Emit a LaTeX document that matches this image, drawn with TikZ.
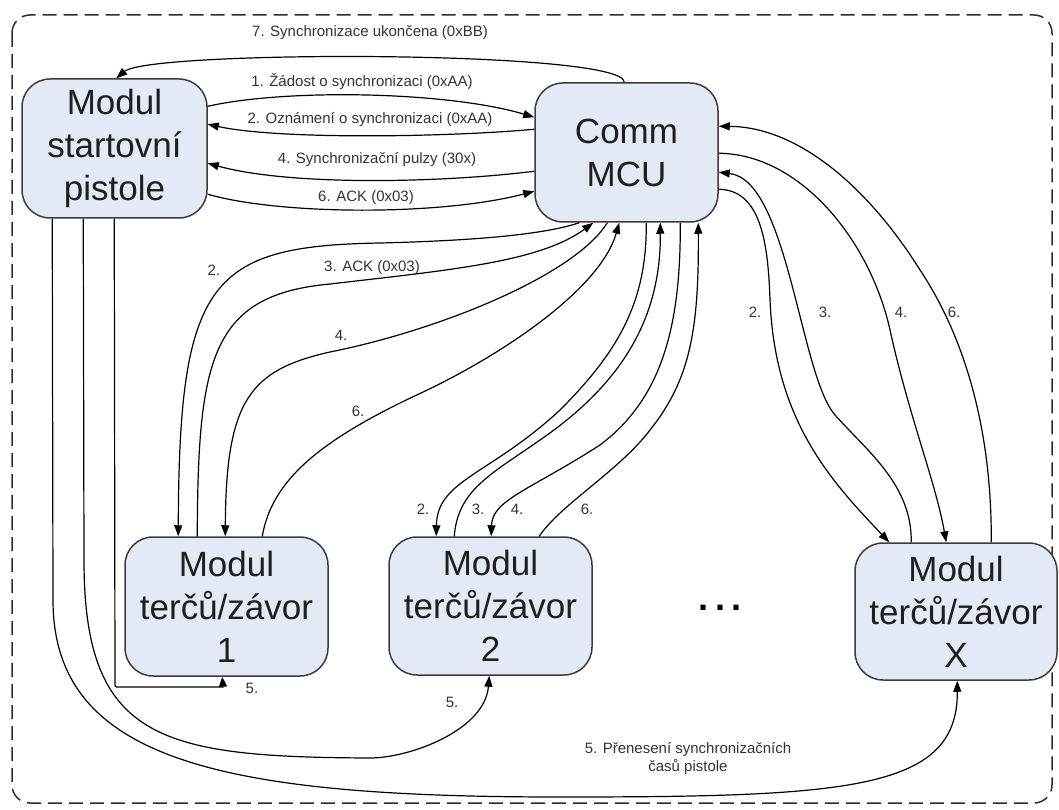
\documentclass[tikz,border=0pt]{standalone}
\usepackage{fontspec}
\setmainfont{Liberation Sans}
\usetikzlibrary{arrows.meta}
\definecolor{boxfill}{HTML}{E3EAF6}
\definecolor{boxline}{HTML}{3C3C3C}
\definecolor{labelgray}{HTML}{333333}
\definecolor{frameline}{HTML}{2E2E2E}
\begin{document}
\begin{tikzpicture}[x=1pt,y=-1pt,
  module/.style={draw=boxline, line width=1.5pt, fill=boxfill, rounded corners=28pt,
    align=center, inner sep=0pt, font=\fontsize{35}{43}\selectfont, text=black!88},
  link/.style={draw=black, line width=1.2pt},
  arr/.style={link, -{Triangle[length=11pt,width=8pt]}},
  tag/.style={font=\fontsize{15}{18}\selectfont, text=labelgray, inner sep=0pt, align=center},
]
\useasboundingbox (0,0) rectangle (1059,810);

% dashed frame around the whole system
\draw[frameline, line width=1.5pt, dash pattern=on 14pt off 7pt, rounded corners=18pt]
  (12,15) rectangle (1052,803);

% modules
\node[module, minimum width=185pt, minimum height=139pt] (pist) at (114.5,148.5) {Modul\\startovní\\pistole};
\node[module, minimum width=183pt, minimum height=139pt] (mcu) at (626.5,152.5) {Comm\\MCU};
\node[module, minimum width=203pt, minimum height=139pt] (m1) at (226.5,606.5) {Modul\\terčů/závor\\1};
\node[module, minimum width=203pt, minimum height=138pt] (m2) at (490.5,606) {Modul\\terčů/závor\\2};
\node[module, minimum width=202pt, minimum height=137pt] (mx) at (956,611.5) {Modul\\terčů/závor\\X};
\node[font=\fontsize{36}{43}\selectfont\bfseries, inner sep=0pt] (dots) at (720,608) {.\kern7pt.\kern7pt.};

% start pistol <-> Comm MCU
\draw[arr] ([yshift=-28pt]pist.north east) .. controls (290,88) and (450,92) .. ([yshift=-35pt]mcu.north west);
\draw[arr] ([yshift=-47pt]mcu.north west) .. controls (450,137) and (280,140) .. ([yshift=-46pt]pist.north east);
\draw[arr] ([yshift=-89pt]mcu.north west) .. controls (440,183) and (290,186) .. ([yshift=-85pt]pist.north east);
\draw[arr] ([yshift=-116pt]pist.north east) .. controls (280,215) and (440,216) .. ([yshift=-109pt]mcu.north west);
\draw[arr] ([xshift=90pt]mcu.north west) .. controls (625,50) and (150,50) .. ([xshift=95pt]pist.north west);

\node[tag] (l7) at (370,33) {7. Synchronizace ukončena (0xBB)};
\node[tag] (l1) at (362,82) {1. Žádost o synchronizaci (0xAA)};
\node[tag] (l2) at (370,120) {2. Oznámení o synchronizaci (0xAA)};
\node[tag] (l4) at (377,160) {4. Synchronizační pulzy (30x)};
\node[tag] (l6) at (366,198) {6. ACK (0x03)};

% Comm MCU <-> module 1
\draw[arr] ([xshift=45pt]mcu.south west) .. controls (540,236) and (460,241) .. (380,243)
  .. controls (210,246) and (179,280) .. ([xshift=54pt]m1.north west);
\draw[arr] ([xshift=73pt]m1.north west) .. controls (198,360) and (210,295) .. (330,284)
  .. controls (450,270) and (540,262) .. ([xshift=59pt]mcu.south west);
\draw[arr] ([xshift=73pt]mcu.south west) .. controls (575,275) and (440,330) .. (330,352)
  .. controls (250,370) and (226,400) .. ([xshift=101pt]m1.north west);
\draw[arr] ([xshift=138pt]m1.north west) .. controls (272,480) and (320,440) .. (421,393)
  .. controls (500,356) and (600,290) .. ([xshift=85pt]mcu.south west);

\node[tag] (a2) at (214,270) {2.};
\node[tag] (a3) at (372,268) {3. ACK (0x03)};
\node[tag] (a4) at (341,335) {4.};
\node[tag] (a6) at (358,411) {6.};

% Comm MCU <-> module 2
\draw[arr] ([xshift=112pt]mcu.south west) .. controls (647,300) and (620,350) .. (560,410)
  .. controls (490,475) and (437,480) .. ([xshift=48pt]m2.north west);
\draw[arr] ([xshift=66pt]m2.north west) .. controls (458,490) and (490,475) .. (540,440)
  .. controls (620,385) and (661,320) .. ([xshift=126pt]mcu.south west);
\draw[arr] ([xshift=146pt]mcu.south west) .. controls (681,330) and (660,400) .. (600,445)
  .. controls (530,490) and (492,500) .. ([xshift=103pt]m2.north west);
\draw[arr] ([xshift=151pt]m2.north west) .. controls (560,505) and (620,470) .. (650,430)
  .. controls (690,380) and (699,330) .. ([xshift=164pt]mcu.south west);

\node[tag] (b2) at (423,509) {2.};
\node[tag] (b3) at (478,509) {3.};
\node[tag] (b4) at (517,509) {4.};
\node[tag] (b6) at (587,509) {6.};

% Comm MCU <-> module X
\draw[arr] ([yshift=-107pt]mcu.north east) .. controls (760,190) and (768,240) .. (770,300)
  .. controls (775,420) and (830,480) .. ([xshift=35pt]mx.north west);
\draw[arr] ([xshift=57pt]mx.north west) .. controls (912,485) and (868,452) .. (835,415)
  .. controls (800,375) and (788,180) .. ([yshift=-90pt]mcu.north east);
\draw[arr] ([yshift=-71pt]mcu.north east) .. controls (800,154) and (870,240) .. (890,330)
  .. controls (910,420) and (935,480) .. ([xshift=92pt]mx.north west);
\draw[arr] ([xshift=137pt]mx.north west) .. controls (992,420) and (960,330) .. (920,270)
  .. controls (870,190) and (800,127) .. ([yshift=-44pt]mcu.north east);

\node[tag] (c2) at (755,312) {2.};
\node[tag] (c3) at (825,312) {3.};
\node[tag] (c4) at (901,312) {4.};
\node[tag] (c6) at (954,312) {6.};

% start pistol -> target modules (step 5)
\draw[link, -{Triangle[length=10pt,width=8pt]}] ([xshift=93pt]pist.south west) -- (115,683)
  .. controls (115,687) .. (119,687) -- (223,687) -- ([xshift=98pt]m1.south west);
\draw[arr] ([xshift=62pt]pist.south west) -- (84,560) .. controls (84,740) and (160,757) .. (370,758)
  .. controls (410,758) and (485,730) .. ([xshift=101pt]m2.south west);
\draw[arr] ([xshift=31pt]pist.south west) -- (53,600) .. controls (53,760) and (220,797) .. (560,797)
  .. controls (850,797) and (958,790) .. ([xshift=103pt]mx.south west);

\node[tag] (d1) at (252,688) {5.};
\node[tag] (d2) at (452,702) {5.};
\node[tag] (d3) at (688,759) {5. Přenesení synchronizačních\\časů pistole};
\end{tikzpicture}
\end{document}
